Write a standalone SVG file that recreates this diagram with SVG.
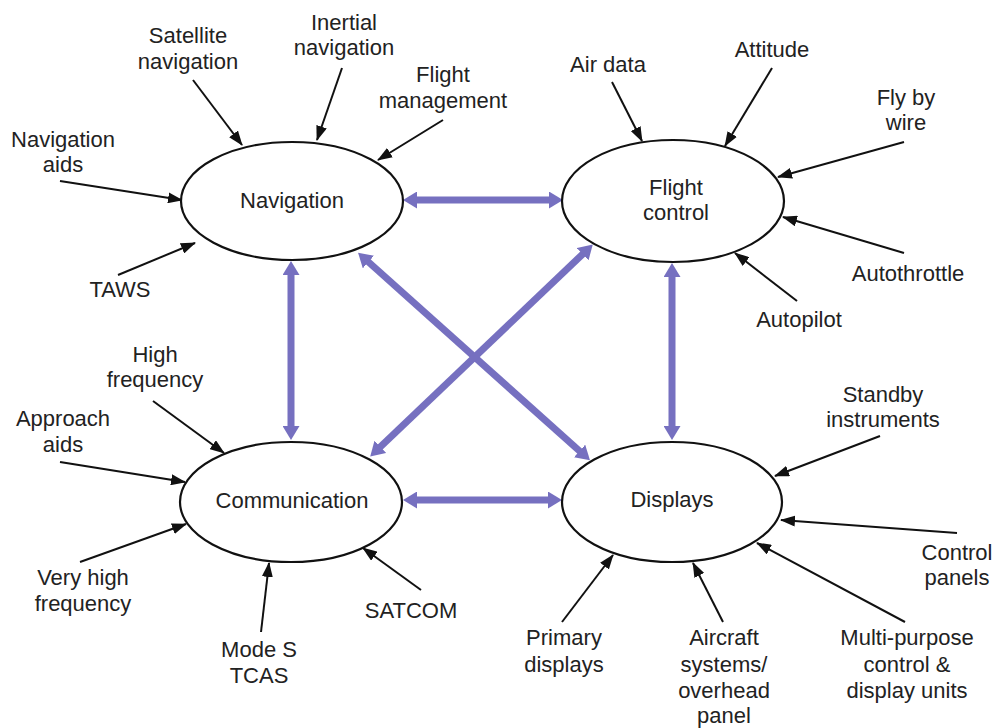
<svg xmlns="http://www.w3.org/2000/svg" width="1001" height="728" viewBox="0 0 1001 728">
<style>
text{font-family:"Liberation Sans",Arial,Helvetica,sans-serif;font-size:22px;fill:#222;text-anchor:middle}
.node ellipse{fill:#fff;stroke:#111;stroke-width:2.2}
.in{stroke:#111;stroke-width:2;fill:none;marker-end:url(#ah)}
.link{stroke:#7670c0;stroke-width:7;fill:none;marker-start:url(#ph);marker-end:url(#ph)}
</style>
<defs>
<marker id="ah" markerUnits="userSpaceOnUse" markerWidth="15" markerHeight="11" refX="14" refY="5.5" orient="auto"><path d="M0,0 L15,5.5 L0,11 z" fill="#111"/></marker>
<marker id="ph" markerUnits="userSpaceOnUse" markerWidth="14" markerHeight="17" refX="6" refY="8.5" orient="auto-start-reverse"><path d="M0,0 L14,8.5 L0,17 z" fill="#7670c0"/></marker>
</defs>
<rect width="1001" height="728" fill="#fff"/>
<g id="connectors">
<line class="link" x1="411" y1="200" x2="555" y2="200"/>
<line class="link" x1="411" y1="500" x2="554" y2="500"/>
<line class="link" x1="291" y1="269" x2="291" y2="432"/>
<line class="link" x1="672" y1="271" x2="672" y2="432"/>
<line class="link" x1="364" y1="258" x2="584" y2="455"/>
<line class="link" x1="376" y1="451" x2="587" y2="250"/>
<line class="in" x1="193" y1="80" x2="242" y2="145"/>
<line class="in" x1="342" y1="68" x2="317" y2="140"/>
<line class="in" x1="443" y1="120" x2="378" y2="160"/>
<line class="in" x1="60" y1="181" x2="182" y2="200"/>
<line class="in" x1="118" y1="275" x2="195" y2="243"/>
<line class="in" x1="612" y1="82" x2="642" y2="141"/>
<line class="in" x1="772" y1="68" x2="725" y2="146"/>
<line class="in" x1="904" y1="142" x2="778" y2="177"/>
<line class="in" x1="904" y1="253" x2="783" y2="217"/>
<line class="in" x1="797" y1="301" x2="735" y2="253"/>
<line class="in" x1="153" y1="401" x2="224" y2="453"/>
<line class="in" x1="60" y1="462" x2="185" y2="482"/>
<line class="in" x1="80" y1="562" x2="186" y2="524"/>
<line class="in" x1="261" y1="632" x2="269" y2="563"/>
<line class="in" x1="421" y1="590" x2="363" y2="548"/>
<line class="in" x1="880" y1="436" x2="775" y2="476"/>
<line class="in" x1="957" y1="533" x2="781" y2="520"/>
<line class="in" x1="905" y1="622" x2="757" y2="543"/>
<line class="in" x1="723" y1="622" x2="693" y2="563"/>
<line class="in" x1="562" y1="622" x2="613" y2="555"/>
</g>
<g id="navigation" class="node"><ellipse cx="292" cy="201" rx="111" ry="59"/><text x="292" y="208">Navigation</text></g>
<g id="flight-control" class="node"><ellipse cx="673" cy="201" rx="111" ry="61"/><text x="676" y="195">Flight</text><text x="676" y="220">control</text></g>
<g id="communication" class="node"><ellipse cx="291" cy="502" rx="111" ry="60"/><text x="292" y="508">Communication</text></g>
<g id="displays" class="node"><ellipse cx="672" cy="502" rx="110" ry="60"/><text x="672" y="507">Displays</text></g>
<g id="labels">
<text x="188" y="43">Satellite</text><text x="188" y="69">navigation</text>
<text x="344" y="30">Inertial</text><text x="344" y="55">navigation</text>
<text x="443" y="82">Flight</text><text x="443" y="108">management</text>
<text x="63" y="147">Navigation</text><text x="63" y="172">aids</text>
<text x="120" y="297">TAWS</text>
<text x="608" y="72">Air data</text>
<text x="772" y="57">Attitude</text>
<text x="906" y="105">Fly by</text><text x="906" y="130">wire</text>
<text x="908" y="281">Autothrottle</text>
<text x="799" y="327">Autopilot</text>
<text x="155" y="362">High</text><text x="155" y="387">frequency</text>
<text x="63" y="426">Approach</text><text x="63" y="452">aids</text>
<text x="83" y="585">Very high</text><text x="83" y="611">frequency</text>
<text x="259" y="657">Mode S</text><text x="259" y="683">TCAS</text>
<text x="411" y="618">SATCOM</text>
<text x="883" y="402">Standby</text><text x="883" y="427">instruments</text>
<text x="957" y="560">Control</text><text x="957" y="585">panels</text>
<text x="907" y="645">Multi-purpose</text><text x="907" y="672">control &amp;</text><text x="907" y="698">display units</text>
<text x="724" y="645">Aircraft</text><text x="724" y="672">systems/</text><text x="724" y="698">overhead</text><text x="724" y="723">panel</text>
<text x="564" y="645">Primary</text><text x="564" y="672">displays</text>
</g>
</svg>
